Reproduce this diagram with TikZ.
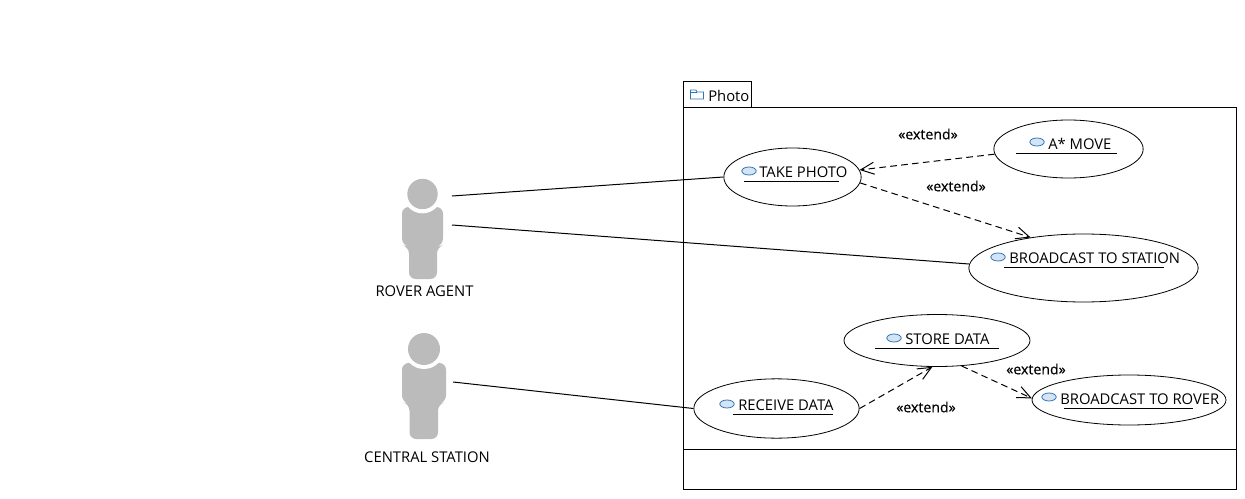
\documentclass[tikz,border=0pt]{standalone}
\usepackage{fontspec}
\setmainfont{Open Sans}
\newfontfamily\extfont[FakeBold=0.4]{Open Sans}
\usetikzlibrary{arrows.meta,shapes.geometric}
\definecolor{actorgray}{RGB}{187,187,187}
\definecolor{iconfill}{RGB}{212,228,245}
\definecolor{iconline}{RGB}{46,117,182}
\tikzset{
  x=0.75pt,y=-0.75pt,
  every node/.style={font=\fontsize{11.1pt}{12pt}\selectfont,text=black,inner sep=0pt},
  usecase/.style={draw=black,line width=0.6pt,ellipse,minimum width=#1},
  assoc/.style={draw=black,line width=0.75pt},
  ext/.style={draw=black,line width=0.75pt,dash pattern=on 5pt off 3.2pt,-{Straight Barb[length=10pt,width=9pt,line width=0.75pt]}},
  frame/.style={draw=black,line width=0.6pt},
  lbl/.style={anchor=west},
  extlbl/.style={font=\extfont\fontsize{10.6pt}{12pt}\selectfont},
  ulab/.style={draw=black,line width=0.6pt},
  icon/.style={draw=iconline,fill=iconfill,line width=0.6pt},
}
\newcommand{\usecaseicon}[2]{\draw[icon] (#1,#2) ellipse (5.4pt and 3pt);}
\begin{document}
\begin{tikzpicture}
\useasboundingbox (0,0) rectangle (1245,499);
% package
\draw[frame] (683,107) rectangle (1236,489);
\draw[frame] (683,81) rectangle (751,107);
\draw[frame] (683,449) -- (1236,449);
\draw[draw=iconline,fill=white,line width=0.6pt] (690.5,99) -- (690.5,90) -- (696,90) -- (697,92) -- (703.5,92) -- (703.5,99) -- cycle;
\draw[draw=iconline,line width=0.6pt] (690.5,92) -- (697,92);
\node[lbl] (photo) at (708,96) {Photo};
% use cases
\node[usecase=103pt,minimum height=43.5pt] (take) at (792.5,177) {};
\node[usecase=112pt,minimum height=43.5pt] (astar) at (1068.5,149) {};
\node[usecase=172pt,minimum height=51pt] (bstation) at (1083.5,268) {};
\node[usecase=139.5pt,minimum height=39pt] (store) at (937,340.5) {};
\node[usecase=145.5pt,minimum height=37.5pt] (brover) at (1129,400) {};
\node[usecase=124pt,minimum height=44.5pt] (receive) at (776.5,408.5) {};
% use case labels
\usecaseicon{749}{171}
\node[lbl] (t1) at (759,172) {TAKE PHOTO};
\draw[ulab] (744,181) -- (839,181);
\usecaseicon{1037}{142}
\node[lbl] (t2) at (1048,144) {A* MOVE};
\draw[ulab] (1016,153) -- (1117,153);
\usecaseicon{998}{257}
\node[lbl] (t3) at (1009,258.5) {BROADCAST TO STATION};
\draw[ulab] (1004,267) -- (1164,267);
\usecaseicon{894}{338}
\node[lbl] (t4) at (905,339) {STORE DATA};
\draw[ulab] (875,348) -- (999,348);
\usecaseicon{1049}{397}
\node[lbl] (t5) at (1060,399) {BROADCAST TO ROVER};
\draw[ulab] (1064,408) -- (1193,408);
\usecaseicon{727}{404}
\node[lbl] (t6) at (738,405.5) {RECEIVE DATA};
\draw[ulab] (733,414) -- (833,414);
% actors
\fill[actorgray,rounded corners=5pt] (402,207) -- (443,207) -- (443,245) -- (437,247) -- (437,279) -- (409,279) -- (409,247) -- (402,245) -- cycle;
\fill[white] (422.5,194) circle (14.5pt);
\fill[actorgray] (422.5,194) circle (11.4pt);
\fill[actorgray,rounded corners=5pt] (402,363) -- (446,363) -- (446,402) -- (438,404) -- (438,439) -- (409.5,439) -- (409.5,404) -- (402,402) -- cycle;
\fill[white] (424,349) circle (15pt);
\fill[actorgray] (424,349) circle (12pt);
\node (rlabel) at (424.5,291) {ROVER AGENT};
\node (clabel) at (427,457) {CENTRAL STATION};
\coordinate (rover1) at (452,196);
\coordinate (rover2) at (452,225);
\coordinate (central) at (453,382);
% connectors
\draw[assoc] (rover1) -- (take.180);
\draw[assoc] (rover2) -- (bstation.178);
\draw[assoc] (central) -- (receive.180);
\draw[ext] (astar.184) -- (take.6);
\draw[ext] (take.-5) -- (bstation.150);
\draw[ext] (receive.0) -- (store.-100);
\draw[ext] (store.-46) -- (brover.179);
% extend labels
\node[extlbl] (e1) at (928,134) {«extend»};
\node[extlbl] (e2) at (956,186) {«extend»};
\node[extlbl] (e3) at (1036,369) {«extend»};
\node[extlbl] (e4) at (926,407) {«extend»};
\end{tikzpicture}
\end{document}
